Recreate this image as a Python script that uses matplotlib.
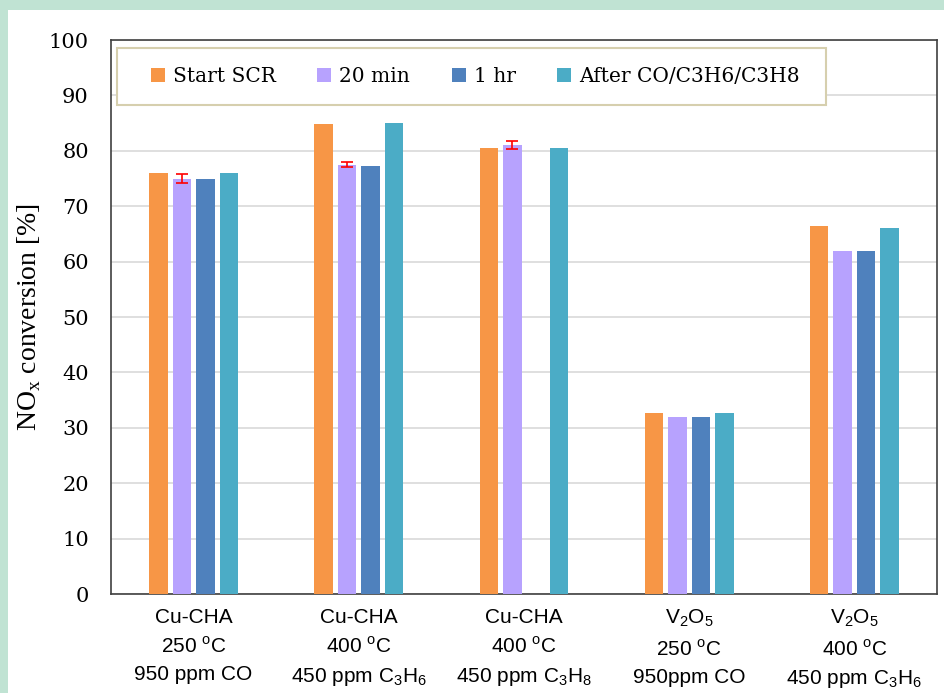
import matplotlib.pyplot as plt
import matplotlib.patches as mpatches
import numpy as np

# catalyst / condition groups
groups = [
    "Cu-CHA\n250 $^\\mathregular{o}$C\n950 ppm CO",
    "Cu-CHA\n400 $^\\mathregular{o}$C\n450 ppm C$_\\mathregular{3}$H$_\\mathregular{6}$",
    "Cu-CHA\n400 $^\\mathregular{o}$C\n450 ppm C$_\\mathregular{3}$H$_\\mathregular{8}$",
    "V$_\\mathregular{2}$O$_\\mathregular{5}$\n250 $^\\mathregular{o}$C\n950ppm CO",
    "V$_\\mathregular{2}$O$_\\mathregular{5}$\n400 $^\\mathregular{o}$C\n450 ppm C$_\\mathregular{3}$H$_\\mathregular{6}$",
]
series = ["Start SCR", "20 min", "1 hr", "After CO/C3H6/C3H8"]
start_scr = [76.0, 84.8, 80.5, 32.7, 66.5]
min_20 = [75.0, 77.5, 81.0, 32.0, 62.0]
min_20_err = [0.8, 0.5, 0.7, 0.0, 0.0]
hr_1 = [75.0, 77.2, np.nan, 32.0, 62.0]
after = [76.0, 85.0, 80.5, 32.7, 66.0]
colors = ["#F79646", "#B7A2FE", "#4F81BD", "#4BACC6"]

fig = plt.figure(figsize=(9.45, 6.93), dpi=100)
fig.patch.set_facecolor("#C0E3D3")
fig.patches.append(mpatches.Rectangle((8 / 945, 0), 1, 1 - 10 / 693,
                                      transform=fig.transFigure,
                                      facecolor="white", edgecolor="none",
                                      zorder=-10))

ax = fig.add_axes([111 / 945, 99 / 693, 826 / 945, 554 / 693])
x = np.arange(len(groups))
w = 0.142
vals = [start_scr, min_20, hr_1, after]
for i, (v, c, lab) in enumerate(zip(vals, colors, series)):
    pos = x + (i - 1.5) * w
    ax.bar(pos, v, width=0.112, color=c, label=lab, zorder=3)
    if i == 1:
        err = np.array(min_20_err)
        m = err > 0
        ax.errorbar(pos[m], np.array(v)[m], yerr=err[m], fmt="none",
                    ecolor="#FF0000", elinewidth=1.2, capsize=4,
                    capthick=1.2, zorder=4)

ax.set_xlim(-0.5, 4.5)
ax.set_ylim(0, 100)
ax.set_yticks(np.arange(0, 101, 10))
ax.yaxis.grid(True, color="#D9D9D9", linewidth=1.2, zorder=0)
ax.set_axisbelow(True)
ax.tick_params(axis="both", length=0)
ax.tick_params(axis="y", pad=16)
for t in ax.get_yticklabels():
    t.set_fontfamily("DejaVu Serif")
    t.set_fontsize(15)
ax.set_xticks(x)
ax.set_xticklabels(groups, fontsize=15, family="Liberation Sans",
                   linespacing=1.55)
ax.tick_params(axis="x", pad=10)
for s in ax.spines.values():
    s.set_color("#404040")
    s.set_linewidth(1.2)

ax.set_ylabel("NO$_\\mathregular{x}$ conversion [%]", fontsize=20,
              family="Liberation Serif", labelpad=4)

# legend box drawn separately so its size can be set freely
ax.add_patch(mpatches.Rectangle((6 / 826, 489 / 554), 709 / 826, 57 / 554,
                                transform=ax.transAxes, facecolor="white",
                                edgecolor="#D6CFAE", linewidth=1.5,
                                zorder=5))
leg = ax.legend(ncol=4, loc="center left", bbox_to_anchor=(40 / 826, 0.934),
                prop={"family": "DejaVu Serif", "size": 14.5},
                frameon=False, handlelength=0.7, handleheight=0.7,
                columnspacing=2.05, handletextpad=0.4, borderpad=0,
                borderaxespad=0)
leg.set_zorder(6)

fig.savefig("out.png", dpi=100, facecolor=fig.get_facecolor())
